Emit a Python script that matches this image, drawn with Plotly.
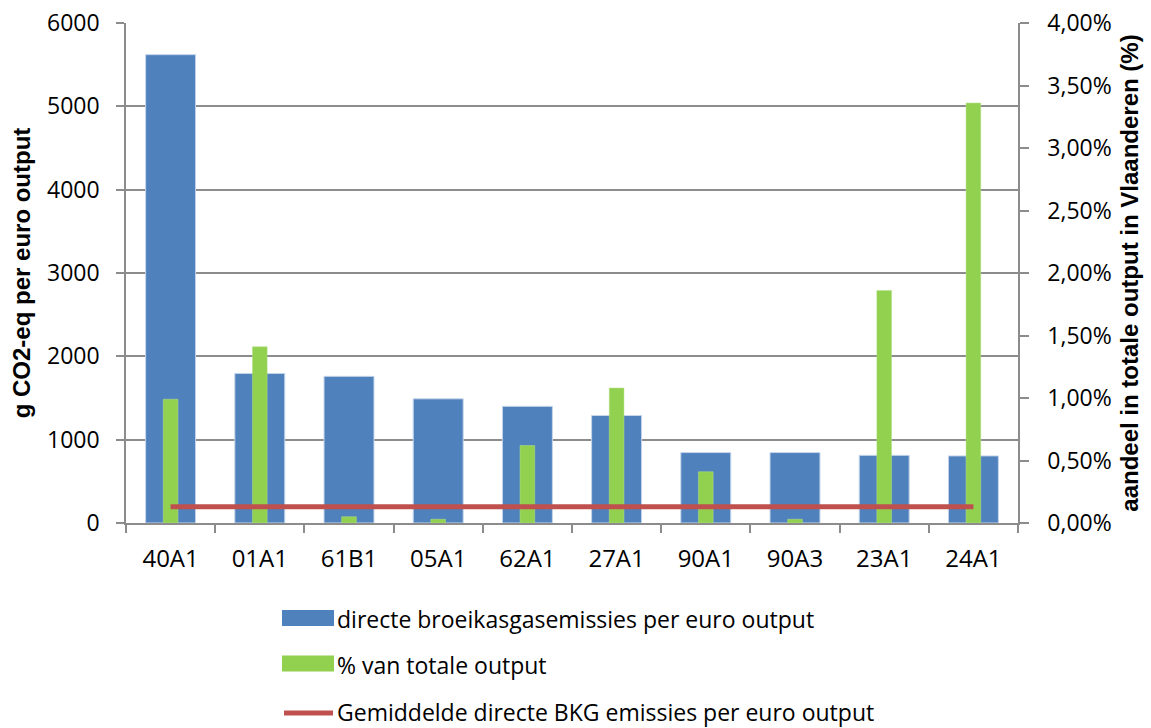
import plotly.graph_objects as go

categories = ["40A1", "01A1", "61B1", "05A1", "62A1", "27A1", "90A1", "90A3", "23A1", "24A1"]
emissions = [5620, 1795, 1760, 1490, 1400, 1290, 845, 845, 812, 805]
output_share = [0.0099, 0.0141, 0.0005, 0.0003, 0.0062, 0.0108, 0.0041, 0.0003, 0.0186, 0.0336]
average_emission = [196] * len(categories)

name_blue = "directe broeikasgasemissies per euro output"
name_green = "% van totale output"
name_red = "Gemiddelde directe BKG emissies per euro output"

BLUE = "#4F81BD"
GREEN = "#92D050"
RED = "#C0504D"
GRID = "#8C8C8C"
FONT = "Open Sans"
TFONT = "Liberation Sans"

fig = go.Figure()
fig.add_trace(go.Bar(x=categories, y=emissions, name=name_blue, width=0.56,
                     marker=dict(color=BLUE, line=dict(color="#C6D5EA", width=1)),
                     yaxis="y", showlegend=False))
fig.add_trace(go.Bar(x=categories, y=output_share, name=name_green, width=0.165,
                     marker=dict(color=GREEN, line=dict(color="#B5E08A", width=0.5)),
                     yaxis="y2", showlegend=False))
# line on its own overlaying axis (same scale as the left axis) so it is drawn on top
fig.add_trace(go.Scatter(x=categories, y=average_emission, name=name_red, mode="lines",
                         line=dict(color=RED, width=5), yaxis="y3", showlegend=False))

L, R, T, B = 126, 133, 23, 205
W, H = 1151, 728
pw = W - L - R
ph = H - T - B

def px_x(x):
    return (x - L) / pw

def px_y(y):
    return (H - B - y) / ph

shapes = []
annotations = []
# (swatch centre y, text centre y, kind, colour, label)
legend_rows = [(618, 619, "bar", BLUE, name_blue),
               (663.5, 664.5, "bar", GREEN, name_green),
               (713, 711.5, "line", RED, name_red)]
for ys, yt, kind, col, txt in legend_rows:
    if kind == "bar":
        shapes.append(dict(type="rect", xref="paper", yref="paper",
                           x0=px_x(282), x1=px_x(334), y0=px_y(ys + 8), y1=px_y(ys - 8),
                           fillcolor=col, line=dict(width=0)))
    else:
        shapes.append(dict(type="line", xref="paper", yref="paper",
                           x0=px_x(284), x1=px_x(333), y0=px_y(ys), y1=px_y(ys),
                           line=dict(color=col, width=5)))
    annotations.append(dict(xref="paper", yref="paper", x=px_x(336), y=px_y(yt),
                            xanchor="left", yanchor="middle", text=txt, showarrow=False,
                            borderpad=0,
                            font=dict(family=FONT, size=23, color="#000000")))

fig.update_layout(
    width=W, height=H,
    margin=dict(l=L, r=R, t=T, b=B, pad=0, autoexpand=False),
    paper_bgcolor="white", plot_bgcolor="white",
    barmode="overlay",
    separators=", ",
    font=dict(family=FONT, size=23, color="#000000"),
    showlegend=False,
    xaxis=dict(type="category", tickson="boundaries", ticks="outside", ticklen=8,
               tickcolor=GRID, tickwidth=1.5, showline=True, linecolor=GRID, linewidth=1.5,
               showgrid=False, tickfont=dict(size=24), ticklabelstandoff=13,
               range=[-0.5, 9.5], automargin=False),
    yaxis=dict(range=[0, 6000], dtick=1000, tickformat="d", showgrid=True, gridcolor=GRID,
               gridwidth=1.5, showline=True, linecolor=GRID, linewidth=1.5, ticks="outside",
               ticklen=8, tickcolor=GRID, tickwidth=1.5, zeroline=False,
               tickfont=dict(size=23), ticklabelstandoff=12, automargin=False,
               title=dict(text="<b>g CO2-eq per euro output</b>",
                          font=dict(family=TFONT, size=24), standoff=10)),
    yaxis2=dict(range=[0, 0.04], dtick=0.005, tickformat=".2%", overlaying="y", side="right",
                showgrid=False, showline=True, linecolor=GRID, linewidth=1.5, ticks="outside",
                ticklen=9, tickcolor=GRID, tickwidth=1.5, zeroline=False,
                tickfont=dict(size=23), ticklabelstandoff=14, automargin=False,
                title=dict(text="<b>aandeel in totale output in Vlaanderen (%)</b>",
                           font=dict(family=TFONT, size=24), standoff=10)),
    yaxis3=dict(range=[0, 6000], overlaying="y", visible=False, showgrid=False,
                zeroline=False, automargin=False),
    shapes=shapes,
    annotations=annotations,
)

fig.write_html("out.html", config={"displayModeBar": False},
               post_script="document.body.style.margin='0';document.body.style.overflow='hidden';")
